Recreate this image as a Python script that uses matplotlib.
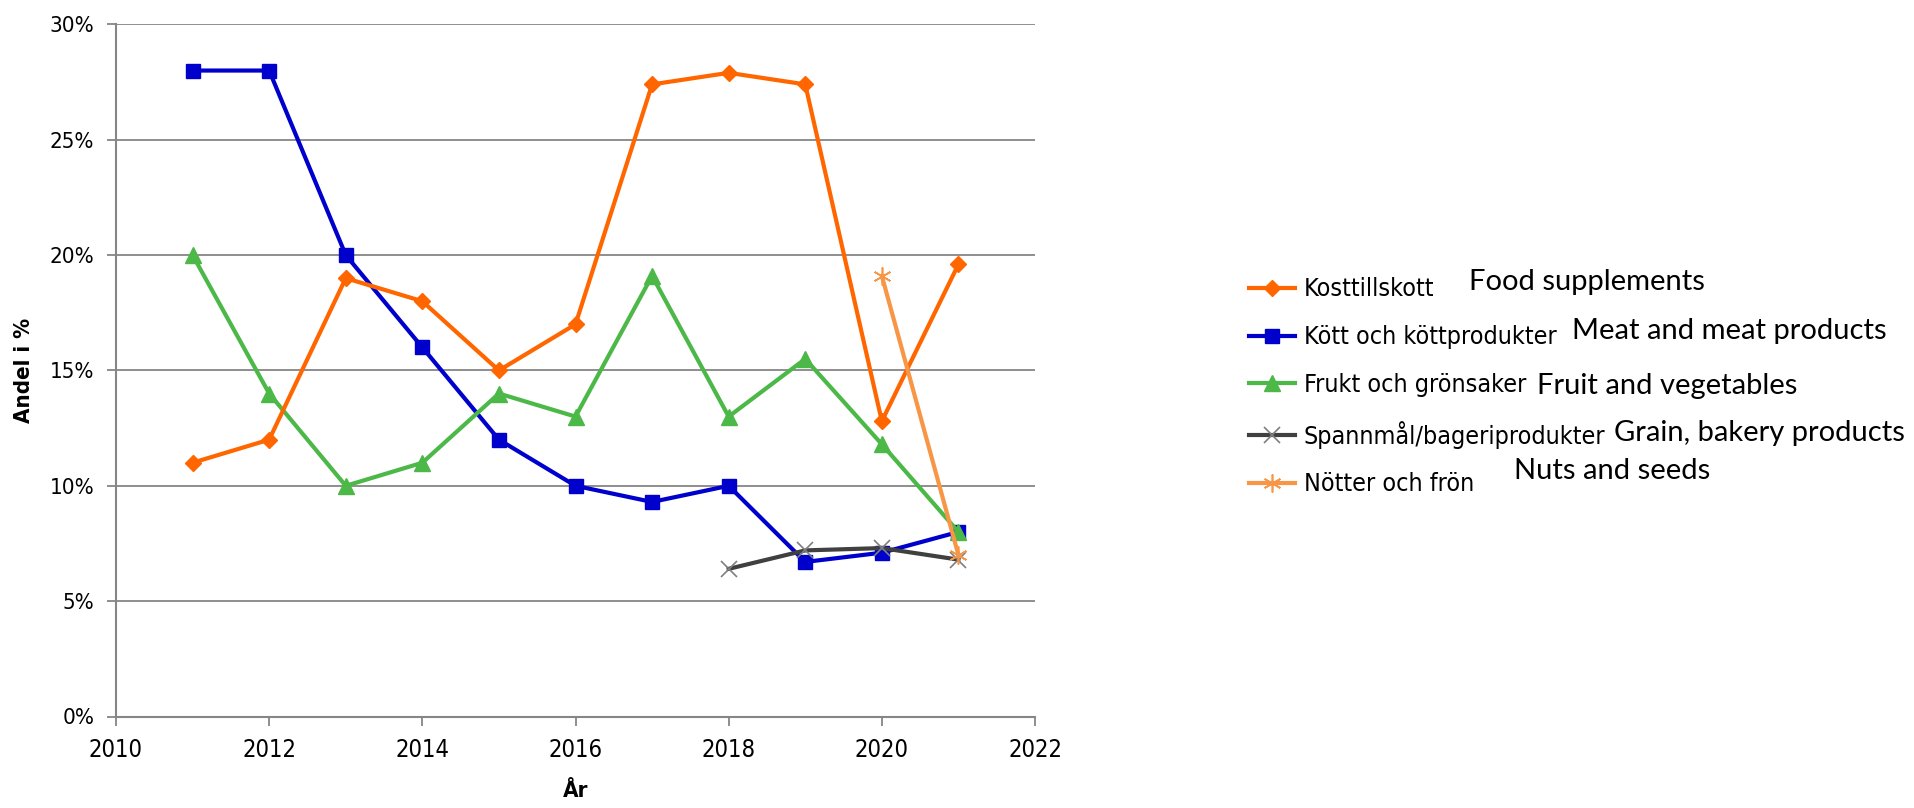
"""
plot.py
Andel av anmälningar per livsmedelskategori, 2011-2021.
"""

import matplotlib.pyplot as plt
from matplotlib.font_manager import FontProperties
from matplotlib.ticker import FuncFormatter, MultipleLocator

years = [2011, 2012, 2013, 2014, 2015, 2016, 2017, 2018, 2019, 2020, 2021]
kosttillskott = [11.0, 12.0, 19.0, 18.0, 15.0, 17.0, 27.4, 27.9, 27.4, 12.8, 19.6]
kott = [28.0, 28.0, 20.0, 16.0, 12.0, 10.0, 9.3, 10.0, 6.7, 7.1, 8.0]
frukt = [20.0, 14.0, 10.0, 11.0, 14.0, 13.0, 19.1, 13.0, 15.5, 11.8, 8.0]
spannmal_years = [2018, 2019, 2020, 2021]
spannmal = [6.4, 7.2, 7.3, 6.8]
notter_years = [2020, 2021]
notter = [19.1, 7.0]

labels_sv = ["Kosttillskott", "Kött och köttprodukter", "Frukt och grönsaker",
             "Spannmål/bageriprodukter", "Nötter och frön"]
labels_en = ["Food supplements", "Meat and meat products", "Fruit and vegetables",
             "Grain, bakery products", "Nuts and seeds"]

W, H = 1914, 808
fig = plt.figure(figsize=(W / 100, H / 100), dpi=100)
ax = fig.add_axes([116 / W, 1 - 716.5 / H, (1035 - 116) / W, (716.5 - 24.4) / H])

grey = "#868686"
ax.plot(years, kosttillskott, color="#FF6600", lw=3, marker="D", ms=8, label=labels_sv[0], zorder=4)
ax.plot(years, kott, color="#0000CC", lw=3, marker="s", ms=10, label=labels_sv[1], zorder=3)
ax.plot(years, frukt, color="#4CB848", lw=3, marker="^", ms=11, label=labels_sv[2], zorder=3)
ax.plot(spannmal_years, spannmal, color="#404040", lw=3, marker="x", ms=11,
        mec="#7F7F7F", mew=1.2, label=labels_sv[3], zorder=3)
ax.plot(notter_years, notter, color="#F79646", lw=3, marker=(6, 2, 0), ms=13,
        mec="#F79646", mew=1.2, label=labels_sv[4], zorder=5)

ax.set_xlim(2010, 2022)
ax.set_ylim(0, 30)
ax.xaxis.set_major_locator(MultipleLocator(2))
ax.yaxis.set_major_locator(MultipleLocator(5))
ax.yaxis.set_major_formatter(FuncFormatter(lambda v, p: f"{v:.0f}%"))
ax.grid(axis="y", color=grey, lw=1.3)
ax.set_axisbelow(True)
for side in ["top", "right"]:
    ax.spines[side].set_visible(False)
for side in ["left", "bottom"]:
    ax.spines[side].set_color(grey)
    ax.spines[side].set_linewidth(1.5)

cond = FontProperties(family="DejaVu Sans", stretch="condensed", size=16)
cond_x = FontProperties(family="DejaVu Sans", stretch="condensed", size=17)
ax.tick_params(colors=grey, labelcolor="black", length=6.5, width=1.3)
ax.tick_params(axis="y", pad=9)
ax.tick_params(axis="x", pad=9)
for t in ax.get_yticklabels():
    t.set_fontproperties(cond)
for t in ax.get_xticklabels():
    t.set_fontproperties(cond_x)

lab = FontProperties(family="DejaVu Sans", stretch="condensed", weight="bold", size=16)
ax.set_xlabel("År", fontproperties=lab, labelpad=14)
ax.set_ylabel("Andel i %", fontproperties=lab, labelpad=11)

leg_font = FontProperties(family="DejaVu Sans", stretch="condensed", size=18)
leg = fig.legend(loc="upper left", bbox_to_anchor=(1226 / W, 1 - 255 / H), frameon=False,
                 handlelength=1.85, handletextpad=0.35, labelspacing=0.95, prop=leg_font)

en_pos = [(1469, 282), (1572, 331), (1537, 386), (1614, 433), (1514, 471)]
for txt, (x, y) in zip(labels_en, en_pos):
    fig.text(x / W, 1 - y / H, txt, fontsize=21, family=["Lato", "DejaVu Sans"], va="center")

fig.savefig("out.png", dpi=100)
